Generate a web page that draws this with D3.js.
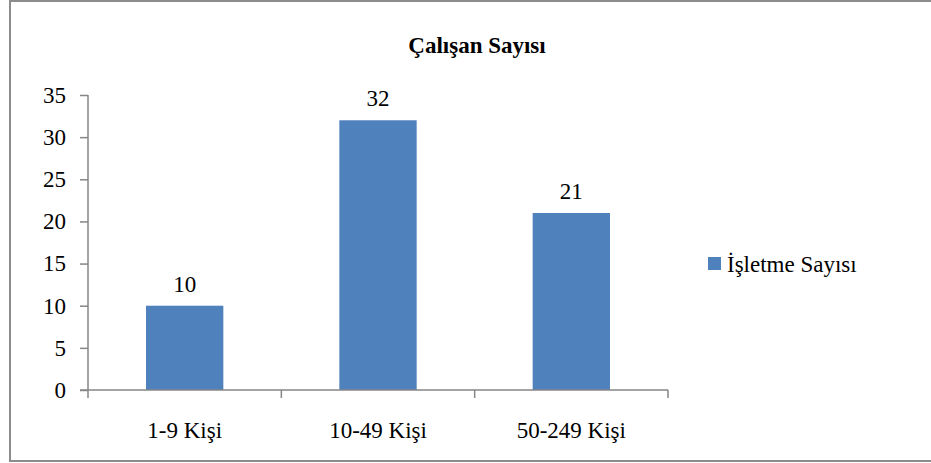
<!DOCTYPE html>
<html>
<head>
<meta charset="utf-8">
<script src="https://cdn.jsdelivr.net/npm/d3@7"></script>
<style>
  body { margin: 0; background: #fff; }
  svg text { font-family: "Liberation Serif", serif !important; }
</style>
</head>
<body>
<div id="chart"></div>
<script>
var categories = ["1-9 Kişi", "10-49 Kişi", "50-249 Kişi"];
var values = [10, 32, 21];
var yTicks = [0, 5, 10, 15, 20, 25, 30, 35];
var seriesName = "İşletme Sayısı";
var chartTitle = "Çalışan Sayısı";

var width = 931;
var height = 463;
var axisColor = "#868686";
var barColor = "#4F81BD";
var serif = "Liberation Serif";

var svg = d3
  .select("div#chart")
  .append("svg")
  .attr("width", width)
  .attr("height", height)
  .style("display", "block");

// helper: force the serif face and size on a text selection
var font = function (sel, size, weight) {
  sel
    .attr("font-family", serif)
    .attr("font-size", size)
    .style("font-family", "'Liberation Serif', serif", "important")
    .style("font-size", size + "px", "important")
    .style("font-weight", weight || "normal", "important");
};

// outer frame
svg.append("rect")
  .attr("x", 10)
  .attr("y", 1)
  .attr("width", 940)
  .attr("height", 460)
  .attr("fill", "none")
  .attr("stroke", "#8c8c8c")
  .attr("stroke-width", 2);

var x = d3.scaleBand()
  .domain(categories)
  .range([88, 668])
  .paddingInner(0.6)
  .paddingOuter(0.3);

var y = d3.scaleLinear()
  .domain([0, 35])
  .range([390, 95]);

// title
svg.append("text")
  .attr("x", 477)
  .attr("y", 53)
  .attr("text-anchor", "middle")
  .call(font, 23, "bold")
  .text(chartTitle);

// bars
svg.append("g")
  .selectAll("rect")
  .data(values)
  .enter()
  .append("rect")
  .attr("x", function (d, i) { return x(categories[i]); })
  .attr("y", function (d) { return y(d); })
  .attr("width", x.bandwidth())
  .attr("height", function (d) { return y(0) - y(d); })
  .attr("fill", barColor);

// value labels
svg.append("g")
  .selectAll("text")
  .data(values)
  .enter()
  .append("text")
  .attr("x", function (d, i) { return x(categories[i]) + x.bandwidth() / 2; })
  .attr("y", function (d) { return y(d) - 14; })
  .attr("text-anchor", "middle")
  .call(font, 23)
  .text(function (d) { return d; });

// y axis
var yAxis = svg.append("g")
  .attr("transform", "translate(88,0)")
  .call(d3.axisLeft(y).tickValues(yTicks).tickSize(8).tickPadding(14));
yAxis.select(".domain").attr("stroke", axisColor).attr("stroke-width", 1.5).attr("d", "M0," + y(35) + "V" + y(0));
yAxis.selectAll(".tick line").attr("stroke", axisColor).attr("stroke-width", 1.5);
yAxis.selectAll(".tick text")
  .attr("fill", "#000")
  .call(font, 23);

// x axis with category boundary ticks
var xAxisG = svg.append("g");
xAxisG.append("line")
  .attr("x1", 80).attr("x2", 668)
  .attr("y1", y(0)).attr("y2", y(0))
  .attr("stroke", axisColor).attr("stroke-width", 1.5);
var bounds = categories.map(function (c) { return x(c) - x.step() * x.paddingInner() / 2; });
bounds.push(668);
xAxisG.selectAll("line.tk")
  .data(bounds)
  .enter()
  .append("line")
  .attr("class", "tk")
  .attr("x1", function (d) { return d; })
  .attr("x2", function (d) { return d; })
  .attr("y1", y(0))
  .attr("y2", y(0) + 8)
  .attr("stroke", axisColor).attr("stroke-width", 1.5);
xAxisG.selectAll("text.cat")
  .data(categories)
  .enter()
  .append("text")
  .attr("class", "cat")
  .attr("x", function (d) { return x(d) + x.bandwidth() / 2; })
  .attr("y", 438)
  .attr("text-anchor", "middle")
  .call(font, 23)
  .text(function (d) { return d; });

// legend
var legend = svg.append("g");
legend.append("rect")
  .attr("x", 708)
  .attr("y", 257)
  .attr("width", 13)
  .attr("height", 13)
  .attr("fill", barColor);
legend.append("text")
  .attr("x", 727)
  .attr("y", 272)
  .call(font, 23)
  .text(seriesName);
</script>
</body>
</html>
